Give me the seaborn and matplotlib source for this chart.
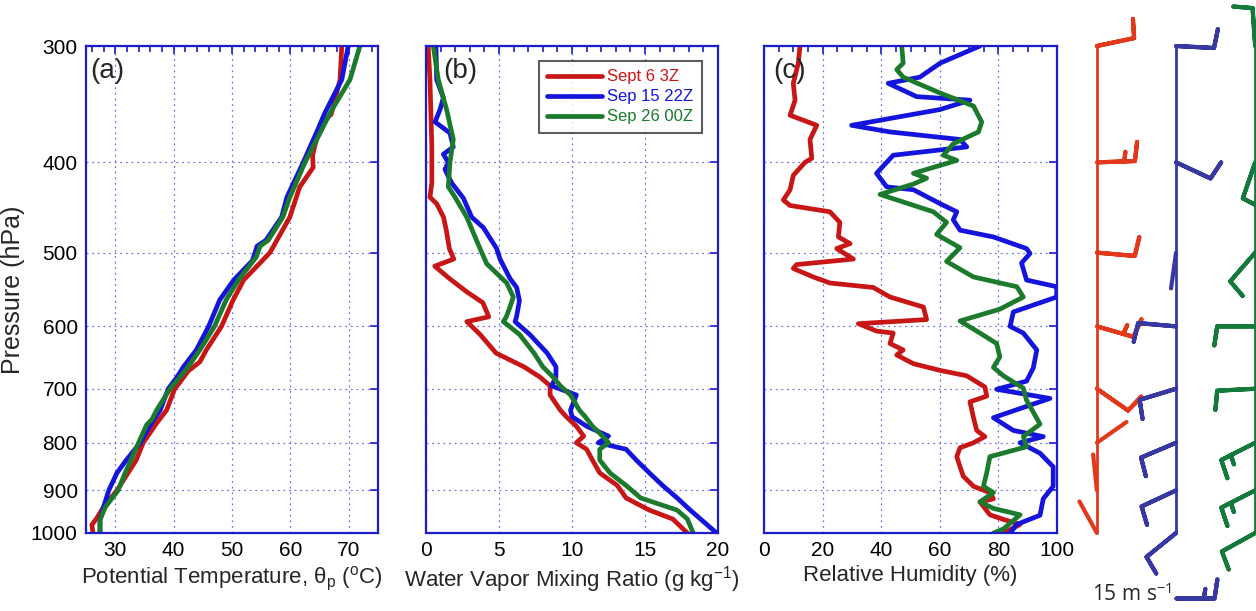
import numpy as np
import pandas as pd
import matplotlib
matplotlib.use("Agg")
import matplotlib.pyplot as plt
import matplotlib.transforms as mtransforms
from matplotlib.ticker import MultipleLocator, FixedLocator, NullLocator
import seaborn as sns

# ---------------- data ----------------
soundings = ["Sept 6 3Z", "Sep 15 22Z", "Sep 26 00Z"]
line_colors = ["#c81616", "#1414dc", "#1c7a2c"]
barb_colors = ["#e2391c", "#3838a0", "#16793c"]

p_ticks = [300, 400, 500, 600, 700, 800, 900, 1000]

# (a) potential temperature (deg C)
theta_red_p = [300, 326, 355, 362, 375, 393, 405, 425, 458, 500, 535, 562, 600, 636, 655, 670,
               690, 700, 738, 762, 800, 835, 862, 900, 938, 965, 980, 1000]
theta_red = [68.8, 68.5, 67.0, 65.6, 64.6, 63.8, 63.9, 61.6, 59.9, 56.5, 52.0, 50.2, 48.2, 45.6,
             44.5, 42.5, 41.0, 40.2, 38.8, 37.1, 34.8, 33.6, 32.2, 30.3, 28.0, 26.8, 26.0, 26.2]
theta_blue_p = [300, 326, 354, 370, 400, 436, 458, 485, 492, 510, 535, 562, 600, 636, 663, 680,
                700, 738, 762, 800, 835, 862, 900, 938, 968, 1000]
theta_blue = [69.9, 68.8, 65.9, 64.6, 62.2, 59.4, 58.5, 55.8, 54.3, 53.5, 50.3, 47.9, 46.0, 43.9,
              41.7, 40.6, 39.1, 37.7, 36.2, 34.3, 31.9, 30.3, 28.9, 28.0, 27.4, 27.4]
theta_green_p = [300, 326, 354, 375, 400, 436, 458, 485, 492, 505, 535, 562, 600, 636, 663, 680,
                 700, 738, 755, 765, 800, 835, 862, 900, 938, 968, 1000]
theta_green = [71.9, 70.2, 66.8, 64.8, 62.5, 59.9, 58.7, 56.2, 54.8, 54.2, 51.1, 49.0, 47.0, 44.5,
               42.5, 41.1, 39.4, 37.1, 36.3, 35.4, 34.0, 32.7, 31.7, 30.5, 28.3, 27.4, 27.4]

# (b) water vapour mixing ratio (g/kg)
mix_red_p = [300, 326, 385, 421, 436, 443, 458, 474, 495, 508, 517, 533, 551, 566, 586, 593, 612,
             641, 663, 680, 695, 711, 738, 750, 768, 787, 800, 813, 835, 862, 889, 917, 945, 966, 1000]
mix_red = [0.15, 0.27, 0.4, 0.4, 0.27, 0.73, 1.2, 1.4, 1.6, 1.9, 0.6, 1.6, 2.8, 3.9, 4.3, 2.8, 3.7,
           4.8, 6.7, 7.8, 8.5, 8.5, 9.2, 9.6, 10.3, 10.8, 10.3, 11.0, 11.4, 11.9, 13.1, 13.7, 15.3,
           16.9, 17.9]
mix_blue_p = [300, 326, 341, 351, 362, 372, 385, 392, 400, 407, 421, 437, 458, 470, 495, 508, 533,
              545, 563, 586, 593, 612, 641, 663, 680, 695, 711, 738, 750, 768, 787, 800, 813, 835,
              862, 889, 917, 945, 966, 1000]
mix_blue = [0.68, 0.73, 1.19, 0.96, 0.62, 1.64, 1.87, 1.19, 1.53, 1.30, 1.76, 2.56, 3.13, 3.93,
            4.84, 5.07, 5.75, 6.21, 6.4, 6.2, 6.1, 7.1, 8.3, 8.9, 8.9, 8.6, 10.3, 9.9, 10.0, 11.0,
            12.5, 11.8, 13.7, 14.4, 15.3, 16.2, 17.2, 18.1, 18.8, 19.9]
mix_green_p = [300, 326, 351, 378, 400, 425, 436, 458, 495, 514, 539, 558, 572, 586, 593, 612, 641,
               663, 680, 695, 711, 738, 750, 768, 787, 800, 813, 835, 862, 889, 917, 945, 966, 1000]
mix_green = [0.5, 0.84, 1.41, 1.87, 1.64, 1.53, 1.99, 2.79, 3.7, 4.16, 5.53, 5.98, 5.75, 5.5, 5.3,
             6.4, 7.4, 8.0, 8.7, 9.2, 9.9, 10.5, 10.9, 11.4, 12.1, 12.5, 11.9, 11.9, 12.6, 13.7,
             14.7, 17.2, 17.9, 18.3]

# (c) relative humidity (%)
rh_red_p = [300, 313, 329, 343, 356, 365, 378, 396, 400, 413, 428, 439, 445, 452, 464, 481, 489,
            495, 508, 515, 520, 531, 539, 545, 558, 572, 590, 596, 607, 610, 626, 636, 644, 658,
            669, 678, 697, 713, 723, 752, 776, 788, 800, 810, 828, 849, 869, 891, 905, 919, 926,
            956, 967, 979, 1000]
rh_red = [12.3, 11.7, 10.0, 10.6, 8.9, 18.0, 15.7, 16.3, 14.0, 10.0, 8.9, 6.6, 8.9, 22.5, 25.9,
          25.4, 29.4, 24.8, 30.5, 11.1, 10.0, 16.8, 22.5, 37.3, 43.0, 54.4, 55.5, 32.2, 38.4, 44.1,
          43.0, 47.5, 45.3, 51.0, 60.1, 69.2, 75.4, 76.0, 70.3, 71.5, 72.6, 75.4, 71.5, 66.9, 65.8,
          66.9, 68.0, 71.5, 77.1, 78.3, 73.7, 77.1, 81.7, 87.4, 81.7]
rh_blue_p = [300, 313, 324, 329, 340, 343, 351, 365, 371, 378, 385, 393, 411, 425, 428, 443, 452,
             461, 473, 481, 495, 501, 513, 535, 544, 558, 579, 600, 610, 636, 665, 687, 701, 717,
             729, 752, 776, 788, 800, 821, 849, 891, 919, 957, 979, 1000]
rh_blue = [73.7, 60.1, 53.2, 42.4, 52.1, 70.3, 60.1, 29.9, 43.0, 66.9, 69.2, 44.1, 38.4, 41.9,
           51.0, 60.1, 65.8, 64.6, 66.9, 78.3, 89.6, 90.8, 87.9, 89.6, 99.9, 99.9, 85.1, 84.0,
           88.5, 93.1, 91.9, 89.6, 79.4, 97.6, 90.8, 78.3, 85.1, 95.3, 87.4, 94.2, 98.7, 98.7,
           95.3, 94.2, 86.3, 84.0]
rh_green_p = [300, 313, 318, 324, 337, 348, 362, 371, 382, 393, 398, 403, 411, 416, 422, 433, 452,
              464, 478, 494, 511, 531, 544, 558, 575, 592, 610, 626, 647, 664, 678, 699, 720, 764,
              788, 808, 828, 862, 891, 905, 926, 941, 956, 990, 1000]
rh_green = [47.0, 47.5, 45.3, 47.5, 60.1, 71.5, 74.3, 73.2, 64.6, 61.2, 65.8, 60.1, 51.0, 55.5,
            51.0, 39.6, 57.8, 62.3, 58.9, 66.9, 62.3, 71.5, 86.3, 88.5, 80.5, 66.9, 73.7, 79.4,
            80.5, 78.3, 81.7, 88.5, 89.6, 94.2, 88.5, 89.6, 77.1, 76.0, 74.9, 78.3, 73.7, 78.3,
            87.4, 81.7, 78.3]

# wind barbs: shaft direction (deg, counter-clockwise from east) and speed (m/s)
barb_p = [300, 400, 500, 600, 700, 800, 900, 1000]
red_shaft_deg = [12, 2, -5, -16, -35, 35, 96, 119]
red_speed = [10, 15, 10, 15, 10, 0, 0, 0]
blue_shaft_deg = [-3, -25, -98, 175, -163, -157, -155, -141]
blue_speed = [10, 10, 0, 10, 10, 10, 10, 10]
green_shaft_deg = [94, -109, -131, 180, -177, -153, -153, -151]
green_speed = [10, 10, 10, 10, 10, 15, 15, 10]
scale_speed = 15

# ---------------- long table ----------------
series = {
    "a": [(theta_red_p, theta_red), (theta_blue_p, theta_blue), (theta_green_p, theta_green)],
    "b": [(mix_red_p, mix_red), (mix_blue_p, mix_blue), (mix_green_p, mix_green)],
    "c": [(rh_red_p, rh_red), (rh_blue_p, rh_blue), (rh_green_p, rh_green)],
}
rows = []
for panel, lst in series.items():
    for name, (pp, vv) in zip(soundings, lst):
        for p, v in zip(pp, vv):
            rows.append({"panel": panel, "sounding": name, "p": p, "value": v})
df = pd.DataFrame(rows)

# ---------------- figure ----------------
sns.set_theme(style="white")
plt.rcParams["font.family"] = ["Liberation Sans", "DejaVu Sans"]
plt.rcParams["mathtext.fontset"] = "custom"
plt.rcParams["mathtext.rm"] = "Liberation Sans"
plt.rcParams["mathtext.it"] = "Liberation Sans:italic"

W, H = 1256, 611
fig = plt.figure(figsize=(W / 100, H / 100), dpi=100)

def px_axes(x0, x1, y0=46, y1=533):
    return fig.add_axes([x0 / W, (H - y1) / H, (x1 - x0) / W, (y1 - y0) / H])

ax_a = px_axes(86, 378)
ax_b = px_axes(426, 718)
ax_c = px_axes(764, 1057)
spine_col = "#1c1cc8"

setup = [
    (ax_a, "a", (25, 75), 10, 2, "Potential Temperature, θ$_{\\mathregular{p}}$ ($^{\\mathregular{o}}$C)", 0.015),
    (ax_b, "b", (0, 20), 5, 1, "Water Vapor Mixing Ratio (g kg$^{\\mathregular{-1}}$)", 0.058),
    (ax_c, "c", (0, 100), 20, 5, "Relative Humidity (%)", 0.031),
]
for ax, panel, xlim, xmaj, xmin, xlabel, lx in setup:
    sns.lineplot(data=df[df.panel == panel], x="value", y="p", hue="sounding",
                 hue_order=soundings, palette=line_colors, sort=False, estimator=None,
                 linewidth=3.4, legend=False, ax=ax)
    ax.set_yscale("log")
    ax.set_ylim(1000, 300)
    ax.yaxis.set_major_locator(FixedLocator(p_ticks))
    ax.yaxis.set_minor_locator(NullLocator())
    ax.set_yticks(p_ticks, labels=[str(p) for p in p_ticks])
    ax.set_xlim(*xlim)
    ax.xaxis.set_major_locator(MultipleLocator(xmaj))
    ax.xaxis.set_minor_locator(MultipleLocator(xmin))
    ax.grid(True, which="major", color="#7474e0", linestyle=(0, (1.5, 3)), linewidth=0.9)
    ax.tick_params(which="both", direction="in", top=True, right=True, color=spine_col,
                   labelsize=15, labelcolor="black", pad=6)
    ax.tick_params(which="major", length=6, width=1.2)
    ax.tick_params(which="minor", length=4, width=1.2)
    for s in ax.spines.values():
        s.set_color(spine_col)
        s.set_linewidth(1.6)
    ax.set_xlabel(xlabel, fontsize=16, labelpad=3)
    ax.set_ylabel("")
    ax.text(lx, 0.975, f"({panel})", transform=ax.transAxes, fontsize=20, va="top", ha="left")
    if panel != "a":
        ax.tick_params(labelleft=False)

ax_a.set_ylabel("Pressure (hPa)", fontsize=18, labelpad=4)

leg = ax_b.legend(ax_b.lines[:3], soundings, loc="upper right", bbox_to_anchor=(0.945, 0.969),
                  borderaxespad=0, frameon=True, fancybox=False, edgecolor="#333333",
                  fontsize=12, handlelength=3.3, handletextpad=0.3, labelspacing=0.3,
                  borderpad=0.5, labelcolor="linecolor")
leg.get_frame().set_linewidth(1.5)

# ---------------- wind barbs ----------------
ax_w = px_axes(1070, 1256)
ax_w.set_yscale("log")
ax_w.set_ylim(1000, 300)
ax_w.set_xlim(-0.34, 2.01)
ax_w.axis("off")

barb_len = 7.4      # matplotlib barb length parameter (~38 px shaft)
shaft_pts = 26      # shaft length in points for barbs without feathers
barb_sizes = dict(height=0.5, spacing=0.28, width=0.15)
bp = np.array(barb_p, dtype=float)
for i, (dirs, spd, col) in enumerate([(red_shaft_deg, red_speed, barb_colors[0]),
                                      (blue_shaft_deg, blue_speed, barb_colors[1]),
                                      (green_shaft_deg, green_speed, barb_colors[2])]):
    a = np.deg2rad(np.array(dirs, dtype=float))
    s = np.array(spd, dtype=float)
    ax_w.vlines(i, min(barb_p), max(barb_p), color=col, linewidth=2.0, clip_on=False)
    m = s > 0
    ax_w.barbs(np.full(m.sum(), i), bp[m], -s[m] * np.cos(a[m]), -s[m] * np.sin(a[m]),
               length=barb_len, color=col, linewidth=3.0, flip_barb=True, pivot="tip",
               sizes=barb_sizes, clip_on=False)
    for p, ang in zip(bp[~m], a[~m]):
        ax_w.annotate("", xy=(i, p), xytext=(shaft_pts * np.cos(ang), shaft_pts * np.sin(ang)),
                      textcoords="offset points", annotation_clip=False,
                      arrowprops=dict(arrowstyle="-", color=col, lw=3.0, shrinkA=0, shrinkB=0))

# scale barb
blend = mtransforms.blended_transform_factory(ax_w.transData, ax_w.transAxes)
ax_w.barbs([1], [-0.133], [-scale_speed], [0], transform=blend, length=barb_len,
           color=barb_colors[1], linewidth=3.0, flip_barb=True, sizes=barb_sizes, clip_on=False)
ax_w.annotate("15 m s$^{\\mathregular{-1}}$", xy=(1, -0.133), xycoords=blend, xytext=(-3, 2),
              textcoords="offset points", ha="right", va="center", fontsize=15,
              family=["Open Sans", "DejaVu Sans"], annotation_clip=False)

fig.savefig("out.png", dpi=100)
